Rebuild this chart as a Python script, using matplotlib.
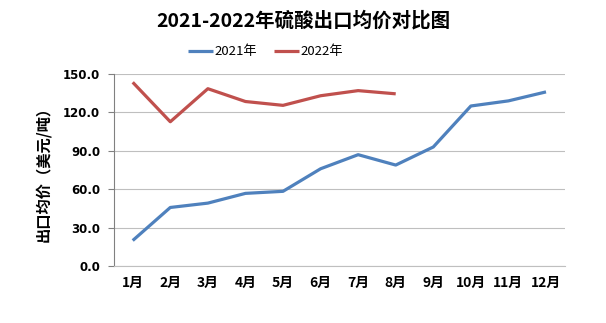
import matplotlib
matplotlib.use("Agg")
import matplotlib.pyplot as plt

plt.rcParams['font.family'] = ['Noto Sans CJK SC', 'DejaVu Sans']

months = ["1月", "2月", "3月", "4月", "5月", "6月", "7月", "8月", "9月", "10月", "11月", "12月"]
price_2021 = [20.0, 45.8, 49.2, 56.8, 58.4, 76.0, 87.0, 78.9, 93.0, 125.0, 129.0, 136.0]
price_2022 = [143.5, 112.7, 138.5, 128.5, 125.5, 133.0, 137.0, 134.5]

BLUE = "#4F81BD"
RED = "#C0504D"
GRID = "#BFBFBF"

fig = plt.figure(figsize=(6.06, 3.23), dpi=100)
ax = fig.add_axes([0.188, 0.176, 0.744, 0.595])

x21 = list(range(len(price_2021)))
x22 = list(range(len(price_2022)))
l1, = ax.plot(x21, price_2021, color=BLUE, lw=2.3, label="2021年", solid_capstyle="butt")
l2, = ax.plot(x22, price_2022, color=RED, lw=2.3, label="2022年", solid_capstyle="butt")

ax.set_xlim(-0.5, len(months) - 0.5)
ax.set_ylim(0, 150)
ax.set_yticks([0, 30, 60, 90, 120, 150])
ax.set_yticklabels([f"{v:.1f}" for v in [0, 30, 60, 90, 120, 150]],
                   fontweight="bold", fontsize=8.5, family="DejaVu Sans")
ax.set_xticks(x21)
ax.set_xticklabels(months, fontweight="bold", fontsize=10)
ax.tick_params(axis="x", length=0, pad=7)
ax.tick_params(axis="y", length=4, color="#808080", pad=6)

ax.grid(axis="y", color=GRID, lw=0.8)
ax.set_axisbelow(True)
for s in ["top", "right"]:
    ax.spines[s].set_visible(False)
ax.spines["left"].set_color("#808080")
ax.spines["bottom"].set_color(GRID)

ax.set_ylabel("出口均价（美元/吨）", fontsize=11, fontweight="bold", labelpad=8)

fig.text(0.5, 0.935, "2021-2022年硫酸出口均价对比图", ha="center", va="center",
         fontsize=14, fontweight="bold")
fig.legend(handles=[l1, l2], loc="center", bbox_to_anchor=(0.438, 0.84), ncol=2,
           frameon=False, fontsize=9.5, handlelength=1.9, columnspacing=1.3,
           handletextpad=0.1)

fig.savefig("out.png", dpi=100, facecolor="white")
